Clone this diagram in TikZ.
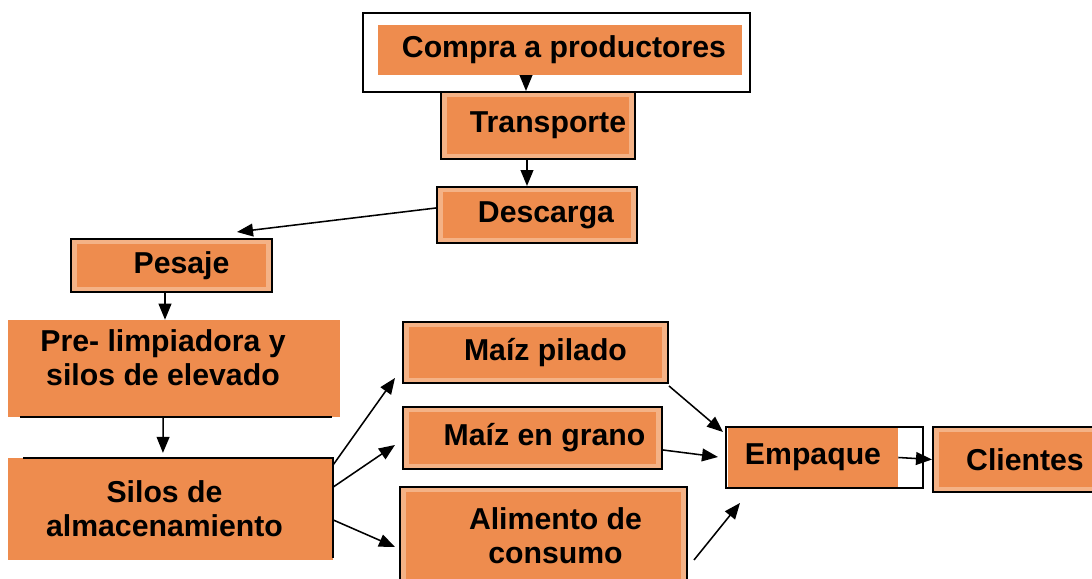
\documentclass[tikz,border=0pt]{standalone}
\usepackage{fontspec}
\setmainfont{Liberation Sans}
\usetikzlibrary{arrows.meta}

\definecolor{boxorange}{RGB}{238,140,78}
\definecolor{rimorange}{RGB}{244,178,134}

% move a line of text inside its box without changing the box
\newcommand{\txtshift}[3]{\raisebox{#2}[\height][\depth]{\hspace*{#1}#3\hspace*{-#1}}}

\begin{document}
\begin{tikzpicture}[
    font=\fontsize{21.5}{24}\selectfont\bfseries,
    stage/.style={draw=black, line width=1.4pt, fill=rimorange, align=center, inner sep=0pt,
        path picture={\fill[boxorange] ([shift={(0.15,0.12)}]path picture bounding box.south west)
            rectangle ([shift={(-0.15,-0.12)}]path picture bounding box.north east);}},
    bare/.style={fill=boxorange, align=center, inner sep=0pt},
    frame/.style={line width=1.4pt},
    arr/.style={-{Triangle[length=4mm,width=3.2mm]}, line width=1.1pt}
]
    \useasboundingbox (0,0) rectangle (27.3,14.475);

    % Boxes
    \node[bare, minimum width=9.1cm, minimum height=1.25cm] (compra) at (14.0,13.225) {\txtshift{0.1cm}{0cm}{Compra a productores}};
    \draw[frame] (9.075,12.175) rectangle (18.75,14.15);
    \node[stage, minimum width=4.85cm, minimum height=1.675cm] (transporte) at (13.45,11.3375) {\txtshift{0.25cm}{0cm}{Transporte}};
    \node[stage, minimum width=5.0cm, minimum height=1.4cm] (descarga) at (13.425,9.1) {\txtshift{0.225cm}{0cm}{Descarga}};
    \node[stage, minimum width=5.025cm, minimum height=1.325cm] (pesaje) at (4.2875,7.8375) {\txtshift{0.25cm}{0cm}{Pesaje}};
    \node[bare, minimum width=8.3cm, minimum height=2.425cm] (pre) at (4.35,5.2625)
        {\txtshift{-0.275cm}{0.275cm}{Pre- limpiadora y}\\\txtshift{-0.275cm}{0.275cm}{silos de elevado}};
    \draw[frame] (0.5,4.05) -- (8.3,4.05);
    \node[bare, minimum width=8.125cm, minimum height=2.55cm] (silos) at (4.2625,1.75)
        {\txtshift{-0.15cm}{0cm}{Silos de}\\\txtshift{-0.15cm}{0cm}{almacenamiento}};
    \draw[frame] (0.575,3.025) -- (8.325,3.025) -- (8.325,0.525);
    \node[stage, minimum width=6.625cm, minimum height=1.525cm] (pilado) at (13.3875,5.6625) {\txtshift{0.25cm}{0cm}{Maíz pilado}};
    \node[stage, minimum width=6.475cm, minimum height=1.55cm] (grano) at (13.3125,3.525) {\txtshift{0.3cm}{0cm}{Maíz en grano}};
    \node[stage, minimum width=7.175cm, minimum height=2.45cm] (alimento) at (13.5875,1.075)
        {\txtshift{0.3cm}{0cm}{Alimento de}\\\txtshift{0.3cm}{0cm}{consumo}};
    \node[bare, minimum width=4.25cm, minimum height=1.525cm] (empaque) at (20.325,3.0375) {Empaque};
    \draw[frame] (18.15,2.275) rectangle (23.075,3.8);
    \node[stage, minimum width=4.6cm, minimum height=1.625cm] (clientes) at (25.625,2.9875) {Clientes};

    % Free arrow ends
    \coordinate (pesajein) at (5.925,8.675);
    \coordinate (piladoin) at (9.875,5.025);
    \coordinate (granoin) at (9.875,3.35);
    \coordinate (alimentoin) at (9.875,0.8);
    \coordinate (empaquein1) at (18.075,3.675);
    \coordinate (empaquein2) at (17.95,3.05);
    \coordinate (empaquein3) at (18.5,1.9);

    % Arrows
    \draw[arr] ([xshift=-0.85cm]compra.south) -- ([xshift=-0.3cm]transporte.north);
    \draw[arr] ([xshift=-0.275cm]transporte.south) -- ([xshift=-0.25cm]descarga.north);
    \draw[arr] ([yshift=0.175cm]descarga.west) -- (pesajein);
    \draw[arr] ([xshift=-0.1625cm]pesaje.south) -- ([xshift=-0.225cm]pre.north);
    \draw[arr, shorten >=0.12cm] ([xshift=-0.27cm]pre.south) -- ([xshift=-0.19cm]silos.north);
    \draw[arr] ([yshift=-0.175cm]silos.north east) -- (piladoin);
    \draw[arr] ([yshift=0.55cm]silos.east) -- (granoin);
    \draw[arr] ([yshift=-0.275cm]silos.east) -- (alimentoin);
    \draw[arr] ([yshift=-0.05cm]pilado.south east) -- (empaquein1);
    \draw[arr] ([yshift=-0.3cm]grano.east) -- (empaquein2);
    \draw[arr] ([xshift=0.15cm, yshift=-0.6cm]alimento.east) -- (empaquein3);
    \draw[arr] (empaque.east) -- (clientes.west);
\end{tikzpicture}
\end{document}
